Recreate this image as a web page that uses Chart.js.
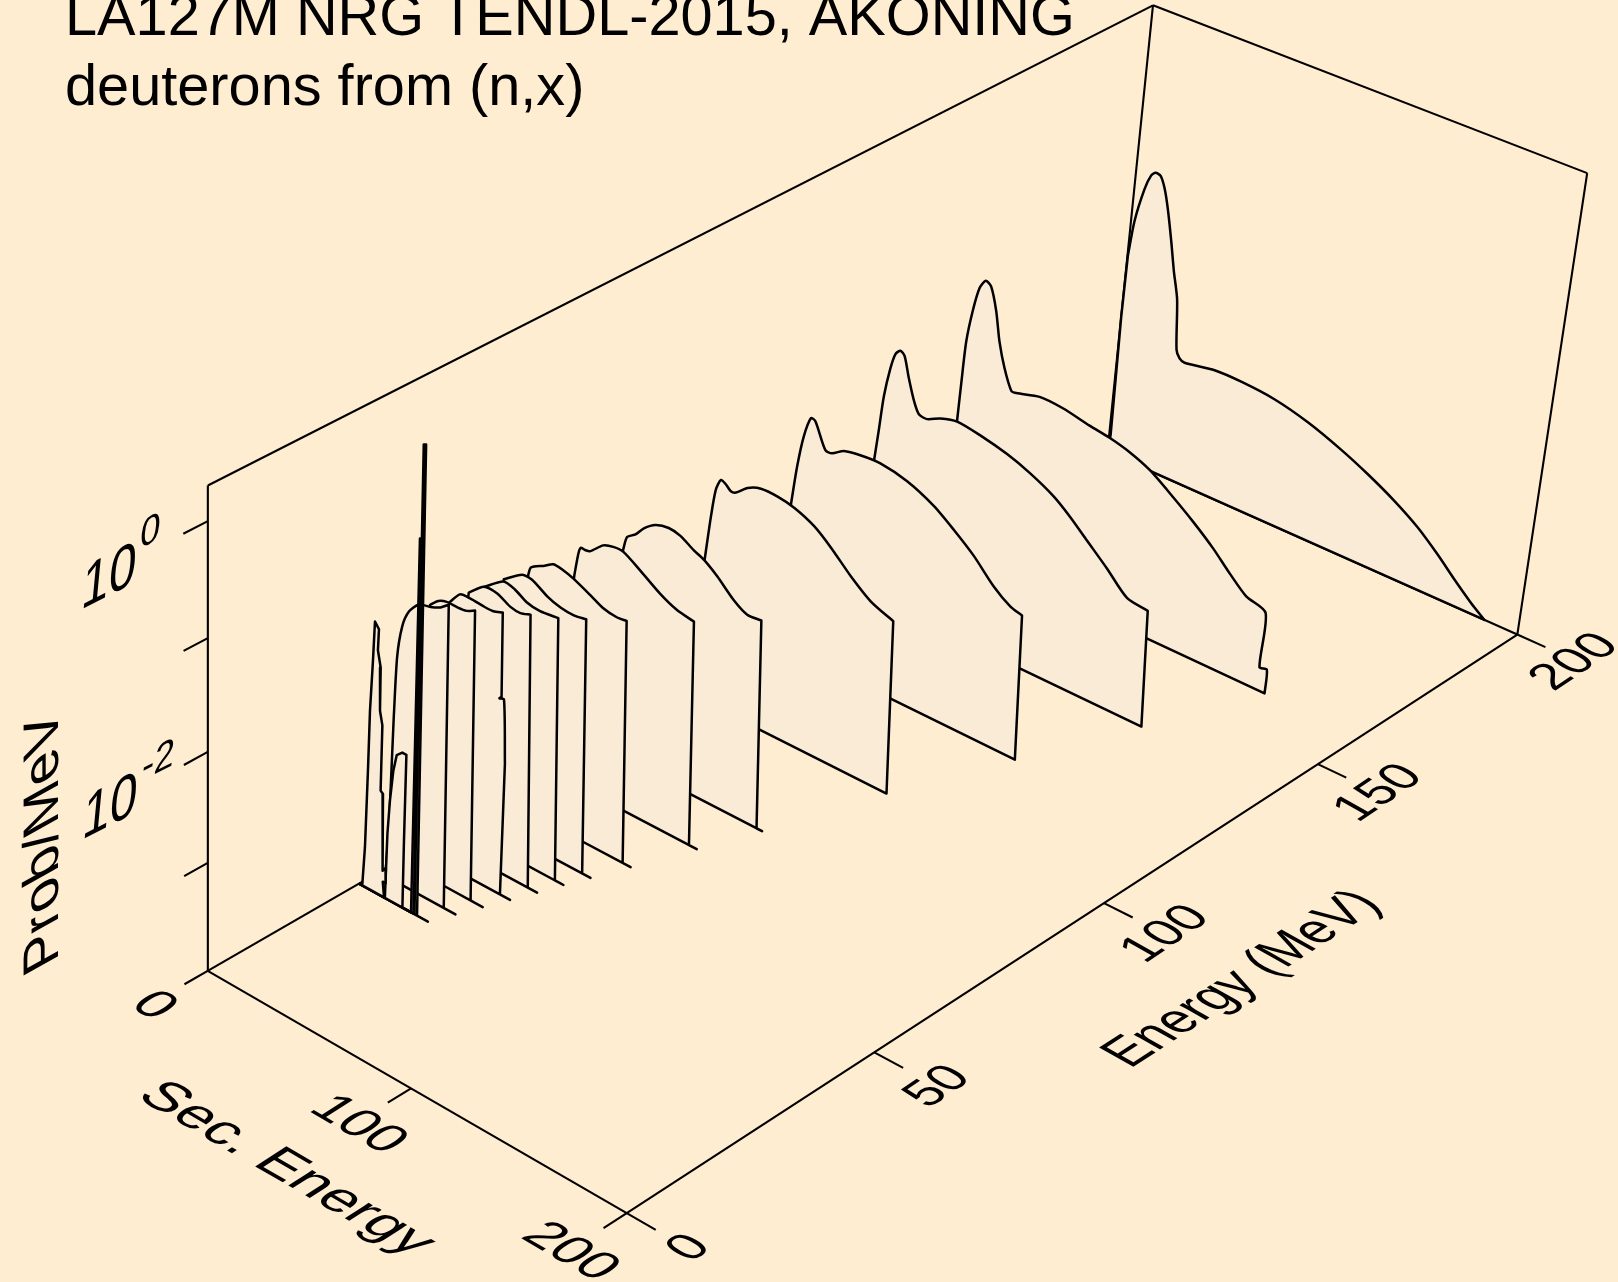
<!DOCTYPE html>
<html><head><meta charset="utf-8">
<style>html,body{margin:0;padding:0;background:#FFEDD1}canvas{display:block}</style>
<script src="https://cdn.jsdelivr.net/npm/chart.js@4/dist/chart.umd.min.js"></script></head>
<body><canvas id="c" width="1618" height="1282"></canvas>
<script>
// Incident energies (MeV)
const incident = [30,30,30,30,34,38,42,46,50,54,60,70,80,100,120,140,160,200];
// Secondary energy (MeV) and log10(Prob/MeV), one pair of arrays per incident energy
const s200=[0.7,0.0,0.2,1.7,4.9,7.4,9.3,11.9,14.4,17.0,20.2,22.9,25.9,28.2,30.1,32.7,47.3,60.4,76.8,93.5,110.2,123.8,137.4,149.4,160.0,168.9,177.8,184.7];
const p200=[-3.82,-2.66,-2.06,-1.71,-1.38,-1.23,-1.19,-1.20,-1.30,-1.48,-1.76,-2.02,-2.27,-2.74,-2.81,-2.83,-2.78,-2.78,-2.81,-2.89,-3.01,-3.13,-3.27,-3.42,-3.59,-3.75,-3.90,-4];
const s160=[0.1,0.6,1.3,3.2,5.5,8.1,10.9,14.3,17.2,20.7,24.9,27.3,38.5,49.9,63.1,72.9,82.8,92.8,104.7,114.9,125.3,134.1,142.7,152.2,152.4,155.8,156.1];
const p160=[-2.79,-2.42,-2.01,-1.70,-1.47,-1.38,-1.41,-1.61,-1.88,-2.10,-2.28,-2.28,-2.22,-2.23,-2.28,-2.31,-2.36,-2.44,-2.59,-2.73,-2.89,-3.05,-3.19,-3.26,-3.78,-3.77,-4];
const s140=[0.8,1.9,3.1,5.2,7.1,9.3,11.5,14.3,17.5,20.5,24.6,30.8,38.8,50.2,63.4,75.0,86.6,95.2,103.7,114.1,124.4,134.3,137.1];
const p140=[-2.68,-2.40,-2.07,-1.79,-1.64,-1.59,-1.62,-1.80,-1.98,-2.09,-2.10,-2.04,-2.00,-2.03,-2.09,-2.17,-2.28,-2.40,-2.54,-2.71,-2.89,-2.92,-4];
const s120=[2.6,4.3,6.5,9.4,11.6,17.3,20.6,26.1,34.0,43.7,56.8,70.0,80.1,90.3,100.6,109.0,114.6,117.5];
const p120=[-2.63,-2.27,-1.97,-1.77,-1.78,-2.00,-2.00,-1.93,-1.90,-1.89,-1.94,-2.05,-2.18,-2.33,-2.52,-2.63,-2.66,-4];
const s100=[4.4,6.2,7.8,10.0,12.5,15.0,17.5,22.9,29.2,37.3,45.4,55.3,63.8,73.9,84.0,94.9,98.1];
const p100=[-2.66,-2.25,-1.99,-1.88,-1.90,-1.94,-1.93,-1.84,-1.79,-1.79,-1.82,-1.90,-2.02,-2.19,-2.33,-2.41,-4];
const s80=[8.1,9.7,13.7,17.5,23.0,29.3,35.0,41.7,46.6,53.3,61.7,68.3,75.0,79.0,81.7];
const p80=[-2.07,-1.94,-1.88,-1.79,-1.71,-1.68,-1.70,-1.77,-1.81,-1.90,-2.04,-2.11,-2.10,-4,-4];
const s70=[7.4,8.9,9.9,12.0,14.4,20.6,25.4,30.3,38.5,48.5,56.7,65.0,68.6,72.4];
const p70=[-2.07,-1.86,-1.80,-1.80,-1.79,-1.68,-1.65,-1.65,-1.74,-1.86,-1.93,-1.96,-4,-4];
const s60=[7.9,8.9,11.8,14.9,19.7,24.5,29.5,37.7,44.2,50.7,55.4,59.1,63.0];
const p60=[-1.82,-1.75,-1.71,-1.68,-1.62,-1.63,-1.66,-1.73,-1.79,-1.81,-1.80,-4,-4];
const s54=[10.0,18.7,23.5,31.0,37.5,43.9,49.8,53.2,57.3];
const p54=[-1.70,-1.58,-1.58,-1.66,-1.70,-1.71,-1.69,-4,-4];
const s50=[9.6,19.1,24.7,30.5,37.0,45.7,49.2,53.4];
const p50=[-1.68,-1.54,-1.56,-1.62,-1.64,-1.62,-4,-4];
const s46=[12.0,19.1,25.6,32.1,36.9,41.7,45.3,49.9];
const p46=[-1.61,-1.49,-1.49,-1.55,-1.56,-1.53,-4,-4];
const s42=[11.8,17.2,22.1,28.5,33.3,37.8,38.6,37.6,39.8,41.3,41.1,46.1];
const p42=[-1.61,-1.48,-1.47,-1.48,-1.48,-1.45,-2.20,-2.22,-2.21,-2.78,-4,-4];
const s38=[12.5,16.4,20.4,25.2,30.0,34.0,36.2,42.2];
const p38=[-1.52,-1.45,-1.42,-1.42,-1.41,-1.37,-4,-4];
const s34=[3.3,4.6,5.8,6.8,8.9,11.9,16.7,22.3,27.0,30.9,32.6,38.4];
const p34=[-4,-3.55,-2.49,-1.94,-1.65,-1.49,-1.38,-1.35,-1.31,-1.25,-4,-4];
const s30d=[26.1,26.0,27.0,27.4];
const p30d=[-4,-0.62,-0.62,-4];
const s30c=[27.8,26.7,27.8,29.1,34.5];
const p30c=[-4,0.19,0.20,-4,-4];
const s30b=[13.0,13.6,14.5,15.8,17.3,20.0,22.0,21.8,21.8,26.3];
const p30b=[-4,-3.39,-3.07,-2.79,-2.63,-2.58,-2.58,-3.37,-4,-4];
const s30a=[1.6,2.6,3.4,3.8,4.8,5.4,7.4,7.1,8.6,8.7,10.0,9.8,11.0,11.5,13.2,13.2,11.8,12.6];
const p30a=[-4,-3.63,-2.88,-2.36,-1.89,-1.54,-1.59,-1.78,-1.92,-2.31,-2.43,-3.03,-3.05,-3.76,-3.72,-3.86,-3.86,-4];
const secSeries=[s30a,s30b,s30c,s30d,s34,s38,s42,s46,s50,s54,s60,s70,s80,s100,s120,s140,s160,s200];
const probSeries=[p30a,p30b,p30c,p30d,p34,p38,p42,p46,p50,p54,p60,p70,p80,p100,p120,p140,p160,p200];
// Axis ranges and ticks
const energyTicks=[0,50,100,150,200];
const secTicks=[0,100,200];
const logProbTicks=[0,-1,-2,-3];
const secTickLabels=['0','100','200'];
const energyTickLabels=['0','50','100','150','200'];
const logMin=-4, logMax=0.3, axisMax=200;
// Perspective camera of the 3-D box
const camX=[207.713,1061.474,383.337,-11.313];
const camY=[970.857,-452.932,173.201,-512.108];
const camW=[0.14605,-0.05694,-0.05507];
function project(E,S,L){
  const e=E/axisMax,s=S/axisMax,t=(L-logMin)/(logMax-logMin);
  const w=1+camW[0]*e+camW[1]*s+camW[2]*t;
  return {x:(camX[0]+camX[1]*e+camX[2]*s+camX[3]*t)/w,y:(camY[0]+camY[1]*e+camY[2]*s+camY[3]*t)/w};
}
const ds=[];
// A corner stays sharp when its point is listed twice: the spline smooths only the ridge of each curve.
function isCliff(S1,L1,S2,L2){return Math.abs(S1-S2)<5 && Math.abs(L1-L2)>0.6;}
secSeries.forEach((sec,i)=>{
  const E=incident[i],P=probSeries[i],base=project(E,0,logMin),pts=[base,base];
  sec.forEach((S,k)=>{
    const q=project(E,S,P[k]);pts.push(q);
    const sharp=k===0||P[k]===logMin||(k>0&&isCliff(sec[k-1],P[k-1],S,P[k]))||(k<sec.length-1&&isCliff(S,P[k],sec[k+1],P[k+1]));
    if(sharp)pts.push(q);
  });
  pts.push(base,base);
  ds.push({data:pts,showLine:true,pointRadius:0,borderColor:'#000',borderWidth:2.5,backgroundColor:'#FAEBD7',fill:'shape',borderJoinStyle:'round',tension:i<4?0:0.25});
});
function seg(a,b,w){ds.push({data:[project(...a),project(...b)],showLine:true,pointRadius:0,borderColor:'#000',borderWidth:w||2.1,fill:false});}
const M=axisMax;
seg([0,0,logMin],[0,0,logMax]);seg([0,0,logMax],[M,0,logMax]);seg([M,0,logMax],[M,M,logMax]);seg([M,M,logMax],[M,M,logMin]);
seg([M,0,logMax],[M,0,logMin]);seg([0,0,logMin],[M,0,logMin]);seg([M,0,logMin],[M,M,logMin]);seg([0,0,logMin],[0,M,logMin]);seg([0,M,logMin],[M,M,logMin]);
secTicks.forEach(S=>seg([0,S,logMin],[-4.5,S,logMin]));
energyTicks.forEach(E=>seg([E,M,logMin],[E,M+13,logMin]));
logProbTicks.forEach(L=>seg([0,0,L],[-4.5,0,L]));

const FONT='"Liberation Sans", Arial, sans-serif';
// [text, font px, matrix a,b,c,d, x,y]
const floorS=[0.93,0.54,-0.87,0.556], floorE=[0.81,-0.547,0.887,0.5];
const wallZ=[0.98,-0.49,-0.12,1.27], wallSup=[0.86,-0.43,-0.1,1.0];
const texts=[
 ['LA127M NRG TENDL-2015, AKONING',57.7,1,0,0,1,65,35],
 ['deuterons from (n,x)',57.7,1,0,0,1,65,105],
 ['Prob/MeV',50,0,-1.15,1.0,-0.56,57.8,961],
 ['10',50,...wallZ,80,610],
 ['0',42,...wallSup,139,549],
 ['10',50,...wallZ,81,840],
 ['-2',42,...wallSup,141,781],
 ['Sec. Energy',50,1.017,0.588,-0.907,0.583,135,1097],
 [secTickLabels[0],50,...floorS,128.6,1006],
 [secTickLabels[1],50,...floorS,307,1110],
 [secTickLabels[2],50,...floorS,519,1237],
 ['Energy (MeV)',50,0.82,-0.53,0.996,0.561,1130,1069],
 [energyTickLabels[0],50,...floorE,690.5,1262.7],
 [energyTickLabels[1],50,...floorE,928,1109],
 [energyTickLabels[2],50,...floorE,1144.5,964],
 [energyTickLabels[3],50,...floorE,1357.6,823],
 [energyTickLabels[4],50,...floorE,1553.6,692]
];
const textPlugin={id:'labels3d',afterDraw(ch){const g=ch.ctx;g.save();g.fillStyle='#000';g.textBaseline='alphabetic';g.textAlign='left';
  texts.forEach(([t,f,a,b,c,d,x,y])=>{g.save();g.font=f+'px '+FONT;g.transform(a,b,c,d,x,y);g.fillText(t,0,0);g.restore();});g.restore();}};
const bgPlugin={id:'bg',beforeDraw(ch){const g=ch.ctx;g.save();g.fillStyle='#FFEDD1';g.fillRect(0,0,ch.width,ch.height);g.restore();}};
new Chart(document.getElementById('c'),{type:'scatter',data:{datasets:ds},plugins:[bgPlugin,textPlugin],
 options:{responsive:false,animation:false,layout:{padding:0},
  plugins:{legend:{display:false},tooltip:{enabled:false},title:{display:false}},
  scales:{x:{type:'linear',display:false,min:0,max:1618},y:{type:'linear',display:false,reverse:true,min:0,max:1282}}}});
</script></body></html>
